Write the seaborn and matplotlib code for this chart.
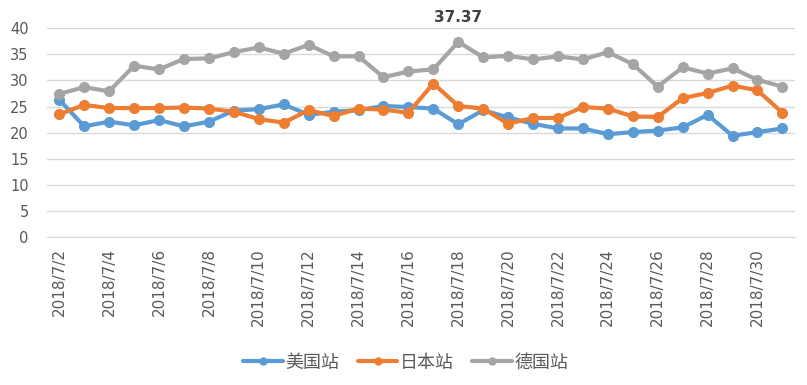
import pandas as pd
import matplotlib
matplotlib.use('Agg')
import matplotlib.pyplot as plt
from matplotlib.lines import Line2D
import seaborn as sns

# Data (2018/7/2 - 2018/7/31)
dates = [f'2018/7/{d}' for d in range(2, 32)]
us = [26.3, 21.2, 22.1, 21.4, 22.4, 21.2, 22.1, 24.2, 24.5, 25.4,
      23.4, 24.0, 24.3, 25.1, 24.9, 24.6, 21.6, 24.3, 22.9, 21.7,
      20.8, 20.8, 19.7, 20.1, 20.4, 21.0, 23.4, 19.4, 20.1, 20.8]
jp = [23.5, 25.3, 24.7, 24.7, 24.7, 24.8, 24.6, 24.0, 22.6, 21.9,
      24.3, 23.2, 24.6, 24.4, 23.8, 29.4, 25.1, 24.6, 21.7, 22.8,
      22.8, 24.9, 24.6, 23.1, 23.0, 26.6, 27.6, 29.0, 28.1, 23.8]
de = [27.4, 28.7, 27.9, 32.8, 32.1, 34.1, 34.2, 35.4, 36.3, 35.1,
      36.8, 34.6, 34.6, 30.6, 31.7, 32.1, 37.37, 34.4, 34.7, 34.0,
      34.6, 34.0, 35.4, 33.1, 28.8, 32.5, 31.3, 32.3, 30.1, 28.8]
series_names = ['美国站', '日本站', '德国站']
colors = ['#5B9BD5', '#ED7D31', '#A5A5A5']

df = pd.DataFrame({'date': dates * 3,
                   'idx': list(range(len(dates))) * 3,
                   'value': us + jp + de,
                   'site': [n for n in series_names for _ in dates]})

sns.set_style('white')
plt.rcParams['font.family'] = ['DejaVu Sans', 'Noto Sans CJK SC']

fig = plt.figure(figsize=(8.07, 3.85), dpi=100)
ax = fig.add_axes([0.058, 0.384, 0.927, 0.543])

sns.lineplot(data=df, x='idx', y='value', hue='site', palette=colors,
             marker='o', markersize=8, markeredgewidth=0, linewidth=3,
             ax=ax, legend=False)

ax.set_xlim(-0.5, len(dates) - 0.5)
ax.set_ylim(0, 40)
ax.set_yticks(range(0, 41, 5))
ax.yaxis.grid(True, color='#D9D9D9', linewidth=1)
ax.set_axisbelow(True)
for s in ['top', 'right', 'left']:
    ax.spines[s].set_visible(False)
ax.spines['bottom'].set_color('#D9D9D9')

ax.set_xticks(range(0, len(dates), 2))
ax.set_xticklabels(dates[::2], rotation=90)
ax.set_xticks([i - 0.5 for i in range(0, len(dates) + 1, 2)], minor=True)
ax.tick_params(axis='x', which='major', length=0, pad=8, labelsize=11, colors='#595959')
ax.tick_params(axis='x', which='minor', length=5, color='#D9D9D9')
ax.tick_params(axis='y', length=0, labelsize=10.5, colors='#595959', pad=13)
ax.set_xlabel('')
ax.set_ylabel('')

# max label
imax = de.index(max(de))
ax.annotate(f'{max(de):.2f}', (imax, max(de)), xytext=(0, 12), textcoords='offset points',
            ha='center', va='bottom', fontsize=11, color='#404040', fontweight='bold',
            annotation_clip=False)

handles = [Line2D([], [], color=c, linewidth=3, marker='o', markersize=6,
                  markeredgewidth=0) for c in colors]
ax.legend(handles, series_names, loc='center', bbox_to_anchor=(0.48, -0.6), ncol=3,
          frameon=False, fontsize=13, labelcolor='#595959', handlelength=2.2,
          handletextpad=0.15, columnspacing=1.0)

fig.savefig('out.png', dpi=100)
